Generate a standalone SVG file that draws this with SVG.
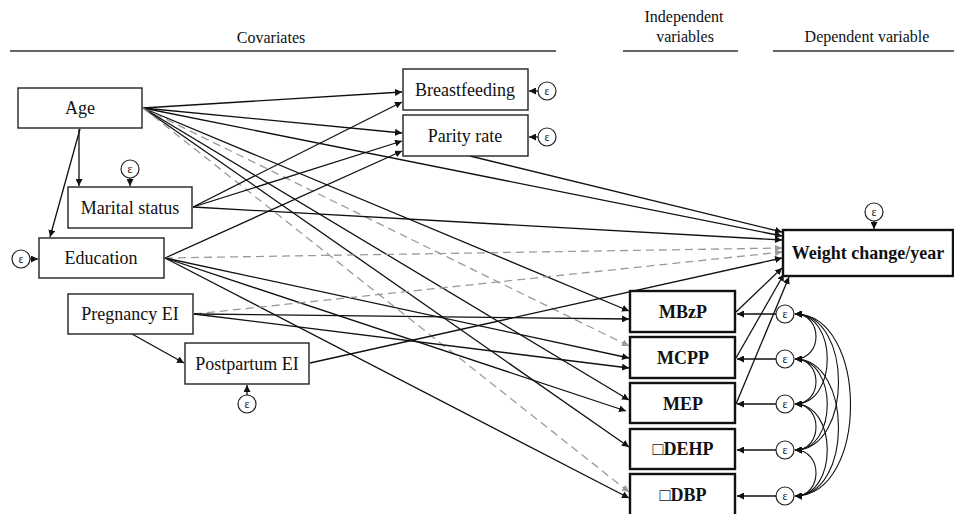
<svg xmlns="http://www.w3.org/2000/svg" width="954" height="514" viewBox="0 0 954 514">
<style>
.hdr{font-family:"Liberation Serif","Times New Roman",serif;font-size:16px;fill:#111;text-anchor:middle}
.lbl{font-family:"Liberation Serif","Times New Roman",serif;font-size:18px;fill:#111;text-anchor:middle}
.bld{font-family:"Liberation Serif","Times New Roman",serif;font-size:18px;font-weight:bold;fill:#111;text-anchor:middle}
.eps{font-family:"Liberation Serif","Times New Roman",serif;font-size:12px;fill:#111;text-anchor:middle}
.box{fill:#fff;stroke:#222;stroke-width:1.4}
.tbox{fill:#fff;stroke:#111;stroke-width:2.4}
.ec{fill:#fff;stroke:#222;stroke-width:1.2}
.rule{stroke:#333;stroke-width:1.5}
.s{fill:none;stroke:#111;stroke-width:1.3;marker-end:url(#ah)}
.d{fill:none;stroke:#9a9a9a;stroke-width:1.3;stroke-dasharray:8 5;marker-end:url(#ahg)}
.cv{fill:none;stroke:#111;stroke-width:1.1;marker-start:url(#ah);marker-end:url(#ah)}
</style>
<defs>
<marker id="ah" markerUnits="userSpaceOnUse" markerWidth="8" markerHeight="7" refX="7" refY="3.5" orient="auto-start-reverse"><path d="M0,0 L7,3.5 L0,7 z" fill="#111"/></marker>
<marker id="ahg" markerUnits="userSpaceOnUse" markerWidth="8" markerHeight="7" refX="7" refY="3.5" orient="auto"><path d="M0,0 L7,3.5 L0,7 z" fill="#9a9a9a"/></marker>
</defs>
<rect width="954" height="514" fill="#fff"/>
<g id="headers">
<text class="hdr" x="271" y="43">Covariates</text>
<line class="rule" x1="10" y1="51" x2="556" y2="51"/>
<text class="hdr" x="684" y="22">Independent</text>
<text class="hdr" x="685" y="42">variables</text>
<line class="rule" x1="623" y1="51" x2="738" y2="51"/>
<text class="hdr" x="867" y="42">Dependent variable</text>
<line class="rule" x1="773" y1="51" x2="954" y2="51"/>
</g>
<g id="connectors">
<path class="s" d="M143,108 L402,92"/>
<path class="s" d="M143,108 L402,133"/>
<path class="s" d="M143,108 L782,236"/>
<path class="s" d="M143,108 L629,311"/>
<path class="d" d="M143,108 L629,346"/>
<path class="s" d="M143,108 L629,400"/>
<path class="s" d="M143,108 L629,447"/>
<path class="d" d="M143,108 L629,492"/>
<path class="s" d="M79,129 L79,186"/>
<path class="s" d="M80,129 L50,237"/>
<path class="s" d="M193,207 L402,102"/>
<path class="s" d="M193,207 L402,141"/>
<path class="s" d="M193,207 L782,240"/>
<path class="s" d="M165,258 L402,151"/>
<path class="d" d="M165,258 L782,248"/>
<path class="s" d="M165,258 L629,358"/>
<path class="s" d="M165,258 L626,411"/>
<path class="s" d="M165,258 L629,498"/>
<path class="d" d="M194,314 L782,252"/>
<path class="s" d="M194,314 L629,319"/>
<path class="s" d="M194,314 L629,368"/>
<path class="s" d="M132,334 L184,363"/>
<path class="s" d="M310,363 L782,258"/>
<path class="s" d="M470,156 L782,232"/>
<path class="s" d="M736,312 L782,268"/>
<path class="s" d="M736,358 L784,274"/>
<path class="s" d="M736,404 L789,277"/>
<path class="s" d="M130,178 L130,186"/>
<path class="s" d="M30,259 L38,259"/>
<path class="s" d="M247,395 L247,385"/>
<path class="s" d="M538,91 L529,91"/>
<path class="s" d="M538,137 L529,137"/>
<path class="s" d="M874,221 L874,229"/>
<path class="s" d="M776,314 L737,314"/>
<path class="s" d="M776,359 L737,359"/>
<path class="s" d="M776,404 L737,404"/>
<path class="s" d="M776,450 L737,450"/>
<path class="s" d="M776,496 L737,496"/>
<path class="cv" d="M795,314 C823,314 823,359 795,359"/>
<path class="cv" d="M795,359 C823,359 823,404 795,404"/>
<path class="cv" d="M795,404 C823,404 823,450 795,450"/>
<path class="cv" d="M795,450 C823,450 823,496 795,496"/>
<path class="cv" d="M795,314 C838,314 838,404 795,404"/>
<path class="cv" d="M795,359 C838,359 838,450 795,450"/>
<path class="cv" d="M795,404 C838,404 838,496 795,496"/>
<path class="cv" d="M795,314 C853,314 853,450 795,450"/>
<path class="cv" d="M795,359 C853,359 853,496 795,496"/>
<path class="cv" d="M795,314 C869,314 869,496 795,496"/>
</g>
<g id="age"><rect class="box" x="18" y="88" width="124" height="40"/><text class="lbl" x="80" y="114">Age</text></g>
<g id="breastfeeding"><rect class="box" x="403" y="69" width="125" height="41"/><text class="lbl" x="465" y="96">Breastfeeding</text></g>
<g id="parity"><rect class="box" x="403" y="115" width="125" height="41"/><text class="lbl" x="465" y="142">Parity rate</text></g>
<g id="marital"><rect class="box" x="68" y="187" width="124" height="41"/><text class="lbl" x="130" y="214">Marital status</text></g>
<g id="education"><rect class="box" x="39" y="238" width="125" height="40"/><text class="lbl" x="101" y="264">Education</text></g>
<g id="pregnancy"><rect class="box" x="68" y="294" width="125" height="40"/><text class="lbl" x="130" y="320">Pregnancy EI</text></g>
<g id="postpartum"><rect class="box" x="185" y="343" width="124" height="41"/><text class="lbl" x="247" y="370">Postpartum EI</text></g>
<g id="weight"><rect class="tbox" x="783" y="230" width="170" height="46"/><text class="bld" x="868" y="259">Weight change/year</text></g>
<g id="mbzp"><rect class="tbox" x="630" y="291" width="105" height="41"/><text class="bld" x="683" y="318">MBzP</text></g>
<g id="mcpp"><rect class="tbox" x="630" y="337" width="105" height="41"/><text class="bld" x="683" y="364">MCPP</text></g>
<g id="mep"><rect class="tbox" x="630" y="383" width="105" height="40"/><text class="bld" x="683" y="410">MEP</text></g>
<g id="dehp"><rect class="tbox" x="630" y="429" width="105" height="40"/><text class="bld" x="683" y="455">□DEHP</text></g>
<g id="dbp"><rect class="tbox" x="630" y="474" width="105" height="44"/><text class="bld" x="683" y="501">□DBP</text></g>
<g id="e-marital"><circle class="ec" cx="130" cy="169" r="9"/><text class="eps" x="130" y="173">ε</text></g>
<g id="e-education"><circle class="ec" cx="21" cy="259" r="9"/><text class="eps" x="21" y="263">ε</text></g>
<g id="e-postpartum"><circle class="ec" cx="247" cy="404" r="9"/><text class="eps" x="247" y="408">ε</text></g>
<g id="e-breastfeeding"><circle class="ec" cx="547" cy="91" r="9"/><text class="eps" x="547" y="95">ε</text></g>
<g id="e-parity"><circle class="ec" cx="547" cy="137" r="9"/><text class="eps" x="547" y="141">ε</text></g>
<g id="e-weight"><circle class="ec" cx="874" cy="212" r="9"/><text class="eps" x="874" y="216">ε</text></g>
<g id="e-mbzp"><circle class="ec" cx="785" cy="314" r="9"/><text class="eps" x="785" y="318">ε</text></g>
<g id="e-mcpp"><circle class="ec" cx="785" cy="359" r="9"/><text class="eps" x="785" y="363">ε</text></g>
<g id="e-mep"><circle class="ec" cx="785" cy="404" r="9"/><text class="eps" x="785" y="408">ε</text></g>
<g id="e-dehp"><circle class="ec" cx="785" cy="450" r="9"/><text class="eps" x="785" y="454">ε</text></g>
<g id="e-dbp"><circle class="ec" cx="785" cy="496" r="9"/><text class="eps" x="785" y="500">ε</text></g>
</svg>
